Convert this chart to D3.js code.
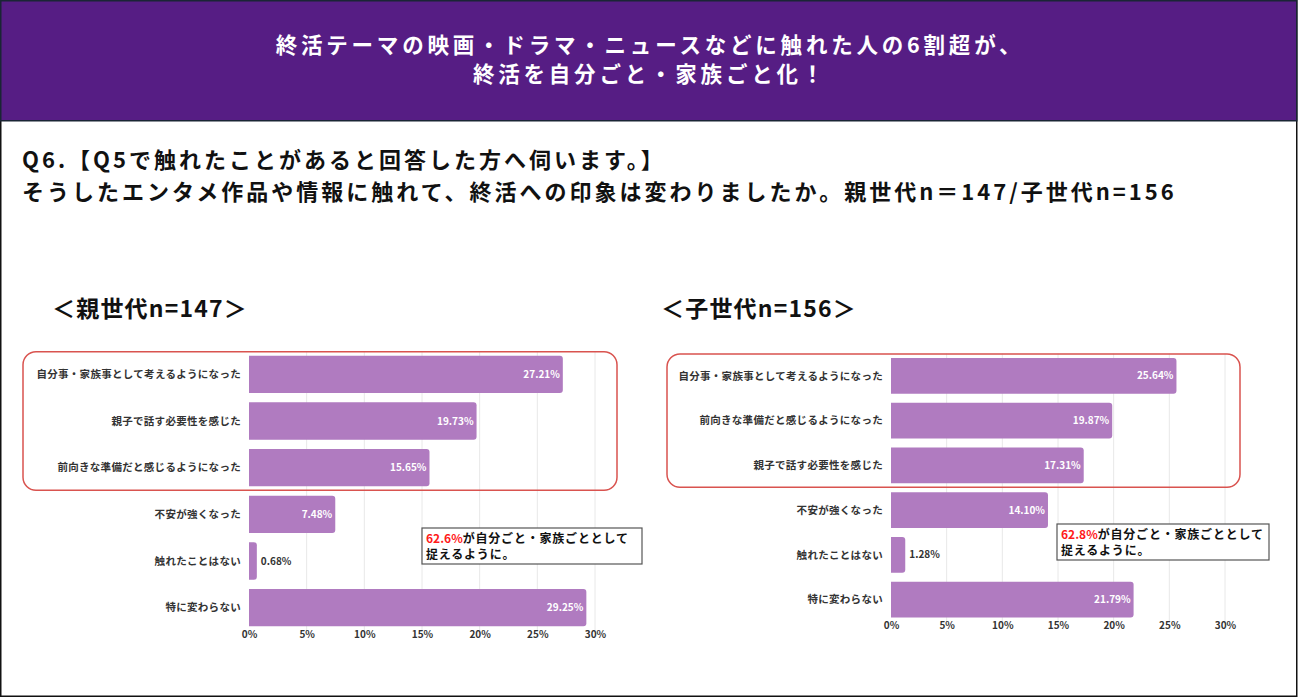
<!DOCTYPE html>
<html>
<head>
<meta charset="utf-8">
<script src="https://cdn.jsdelivr.net/npm/d3@7"></script>
<style>
  body { margin: 0; background: #fff; }
  svg { display: block; font-family: "Noto Sans CJK JP", "Noto Sans", sans-serif; }
</style>
</head>
<body>
<div id="wrapper"></div>
<script>
// data
const parentCategories = ["自分事・家族事として考えるようになった", "親子で話す必要性を感じた", "前向きな準備だと感じるようになった", "不安が強くなった", "触れたことはない", "特に変わらない"];
const parentValues = [27.21, 19.73, 15.65, 7.48, 0.68, 29.25];
const childCategories = ["自分事・家族事として考えるようになった", "前向きな準備だと感じるようになった", "親子で話す必要性を感じた", "不安が強くなった", "触れたことはない", "特に変わらない"];
const childValues = [25.64, 19.87, 17.31, 14.10, 1.28, 21.79];
const xTicks = [0, 5, 10, 15, 20, 25, 30];
const headerLines = ["終活テーマの映画・ドラマ・ニュースなどに触れた人の6割超が、", "終活を自分ごと・家族ごと化！"];
const questionLines = ["Q6.【Q5で触れたことがあると回答した方へ伺います。】", "そうしたエンタメ作品や情報に触れて、終活への印象は変わりましたか。親世代n＝147/子世代n=156"];

const width = 1299, height = 698;
const svg = d3.select("#wrapper").append("svg")
    .attr("width", width)
    .attr("height", height);

svg.append("rect")
    .attr("x", 0.75).attr("y", 0.75)
    .attr("width", width - 3).attr("height", height - 2.5)
    .attr("fill", "#fff")
    .attr("stroke", "#111")
    .attr("stroke-width", 1.5);

// header band
svg.append("rect")
    .attr("x", 0.75).attr("y", 0.75)
    .attr("width", width - 3).attr("height", 120)
    .attr("fill", "#561d84")
    .attr("stroke", "#1a2535")
    .attr("stroke-width", 1.5);

svg.selectAll("text.head")
    .data(headerLines)
    .enter().append("text")
    .attr("class", "head")
    .attr("x", 650)
    .attr("y", (d, i) => 53 + i * 29)
    .attr("text-anchor", "middle")
    .attr("fill", "#fff")
    .attr("font-size", 21.5)
    .attr("font-weight", "bold")
    .attr("letter-spacing", 3.8)
    .text(d => d);

svg.selectAll("text.question")
    .data(questionLines)
    .enter().append("text")
    .attr("class", "question")
    .attr("x", 22)
    .attr("y", (d, i) => 168 + i * 32)
    .attr("fill", "#111")
    .attr("font-size", 22)
    .attr("font-weight", "bold")
    .attr("letter-spacing", 3)
    .text(d => d);

function buildPanel(opts) {
    const x = d3.scaleLinear()
        .domain([0, 30])
        .range([opts.x0, opts.x1]);
    const y = d3.scaleBand()
        .domain(opts.categories)
        .range([opts.y0, opts.y1])
        .paddingInner(0.2)
        .paddingOuter(0.1);

    const g = svg.append("g");

    g.append("text")
        .attr("x", opts.titleX)
        .attr("y", 317)
        .attr("font-size", 23)
        .attr("font-weight", "bold")
        .attr("letter-spacing", 1.2)
        .attr("fill", "#111")
        .text(opts.title);

    // grid
    g.append("g")
        .selectAll("line")
        .data(xTicks.slice(1))
        .enter().append("line")
        .attr("x1", d => x(d)).attr("x2", d => x(d))
        .attr("y1", opts.y0).attr("y2", opts.y1)
        .attr("stroke", "#e8e8e8")
        .attr("stroke-width", 1);

    const data = opts.categories.map((c, i) => ({cat: c, val: opts.values[i]}));

    // bars with rounded right end
    g.append("g")
        .selectAll("path")
        .data(data)
        .enter().append("path")
        .attr("fill", "#b07bc0")
        .attr("d", d => {
            const x0 = x(0), x1 = x(d.val), yt = y(d.cat), yb = yt + y.bandwidth();
            const r = Math.min(3, (x1 - x0) / 2);
            return `M${x0},${yt}H${x1 - r}Q${x1},${yt} ${x1},${yt + r}V${yb - r}Q${x1},${yb} ${x1 - r},${yb}H${x0}Z`;
        });

    // value labels
    g.append("g")
        .selectAll("text")
        .data(data)
        .enter().append("text")
        .attr("x", d => d.val < 3 ? x(d.val) + 4 : x(d.val) - 3)
        .attr("y", d => y(d.cat) + y.bandwidth() / 2)
        .attr("dy", "0.35em")
        .attr("text-anchor", d => d.val < 3 ? "start" : "end")
        .attr("font-size", 10)
        .attr("font-weight", "bold")
        .attr("fill", d => d.val < 3 ? "#333" : "#fff")
        .text(d => d.val.toFixed(2) + "%");

    // category labels
    g.append("g")
        .selectAll("text")
        .data(data)
        .enter().append("text")
        .attr("x", x(0) - 8)
        .attr("y", d => y(d.cat) + y.bandwidth() / 2)
        .attr("dy", "0.35em")
        .attr("text-anchor", "end")
        .attr("font-size", 10.5)
        .attr("font-weight", "bold")
        .attr("letter-spacing", 0.3)
        .attr("fill", "#333")
        .text(d => d.cat);

    // x axis
    const axis = g.append("g")
        .attr("transform", `translate(0,${opts.y1})`)
        .call(d3.axisBottom(x).tickValues(xTicks).tickSize(0).tickPadding(opts.tickPad).tickFormat(d => d + "%"));
    axis.select(".domain").remove();
    axis.selectAll("text")
        .attr("font-family", "\"Noto Sans CJK JP\", sans-serif")
        .attr("font-size", 10)
        .attr("font-weight", "bold")
        .attr("fill", "#333");

    // red highlight round rect
    g.append("rect")
        .attr("x", opts.boxX0)
        .attr("y", y(opts.categories[0]) - 4)
        .attr("width", opts.boxX1 - opts.boxX0)
        .attr("height", y(opts.categories[2]) + y.bandwidth() + 4 - (y(opts.categories[0]) - 4))
        .attr("rx", 13)
        .attr("fill", "none")
        .attr("stroke", "#d9534f")
        .attr("stroke-width", 1.5);

    // annotation
    const note = g.append("g").attr("transform", `translate(${opts.noteX},${opts.noteY})`);
    note.append("rect")
        .attr("width", opts.noteW).attr("height", 36)
        .attr("fill", "#fff")
        .attr("stroke", "#555")
        .attr("stroke-width", 1.2);
    const t1 = note.append("text")
        .attr("x", 4).attr("y", 15)
        .attr("font-size", 12)
        .attr("font-weight", "bold")
        .attr("letter-spacing", 0.8)
        .attr("fill", "#111");
    t1.append("tspan").attr("fill", "#ff1a1a").attr("letter-spacing", 0).text(opts.share);
    t1.append("tspan").text("が自分ごと・家族ごととして");
    note.append("text")
        .attr("x", 4).attr("y", 31)
        .attr("font-size", 12)
        .attr("font-weight", "bold")
        .attr("letter-spacing", 0.8)
        .attr("fill", "#111")
        .text("捉えるように。");
}

buildPanel({
    title: "＜親世代n=147＞", titleX: 52,
    categories: parentCategories, values: parentValues,
    x0: 249, x1: 595, y0: 351, y1: 631, tickPad: 0,
    boxX0: 23, boxX1: 617,
    noteX: 422, noteY: 528, noteW: 220, share: "62.6%"
});

buildPanel({
    title: "＜子世代n=156＞", titleX: 661,
    categories: childCategories, values: childValues,
    x0: 891, x1: 1225, y0: 353.5, y1: 622, tickPad: 0,
    boxX0: 667, boxX1: 1240,
    noteX: 1057, noteY: 524, noteW: 212, share: "62.8%"
});
</script>
</body>
</html>
